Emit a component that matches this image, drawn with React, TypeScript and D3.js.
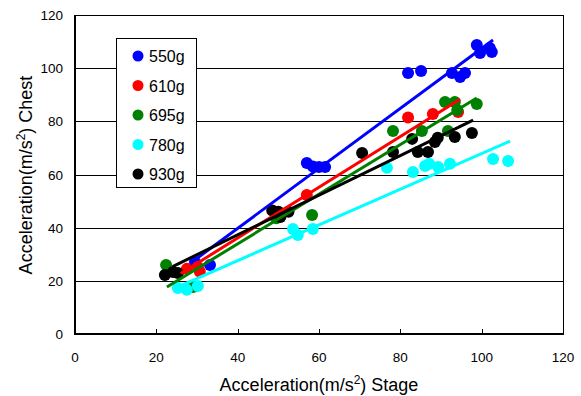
import React from "react";
import * as d3 from "d3";

// ---- data ----
const seriesNames = ["550g", "610g", "695g", "780g", "930g"];
const seriesColors = ["#0000FF", "#FF0000", "#008000", "#00FFFF", "#000000"];

const s550x = [29.5, 33.2, 57, 58.5, 60, 61.5, 81.9, 85.1, 92.7, 94.7, 95.9, 98.8, 99.6, 102, 102.5];
const s550y = [27.1, 26, 64.3, 63, 62.8, 62.8, 98.2, 98.9, 98.2, 96.7, 98.2, 108.7, 105.7, 107.6, 106.1];

const s610x = [27.5, 30.2, 30.7, 57, 81.9, 88, 94.2];
const s610y = [24.5, 25.2, 23.4, 52.3, 81.4, 82.8, 83.5];

const s695x = [22.4, 29, 49.5, 58.3, 78.2, 85.3, 91, 93.4, 94, 98.8, 91.7];
const s695y = [26, 17.7, 43.5, 44.8, 76.4, 76.4, 87.3, 87.3, 84.3, 86.5, 76.4];

const s780x = [25.3, 27.5, 30.2, 53.6, 54.8, 58.5, 76.7, 83.1, 86.1, 87.1, 89.3, 92.2, 102.8, 106.5];
const s780y = [17.3, 16.6, 18.1, 39.5, 37.2, 39.5, 62.5, 60.9, 63.2, 64, 62.8, 64, 65.8, 65.1];

const s930x = [22.1, 24.1, 25.3, 48.5, 50, 50.5, 52.5, 70.6, 78.2, 82.9, 84.3, 86.8, 88.5, 89.2, 93.4, 97.6];
const s930y = [22.2, 23.3, 22.9, 46.5, 46, 44, 46, 68.1, 68.5, 73.4, 68.5, 68.5, 72.2, 73.8, 74.1, 75.6];

const seriesX = [s550x, s610x, s695x, s780x, s930x];
const seriesY = [s550y, s610y, s695y, s780y, s930y];

// linear trendlines: slope, intercept, x range
const trendSlope = [1.128, 0.955, 0.933, 0.671, 0.745];
const trendIntercept = [-5.36, -2.1, -3.4, 0.78, 7.5];
const trendFrom = [29.5, 26, 22.6, 25.3, 24];
const trendTo = [102.8, 94.7, 98.8, 107, 97.9];

const xTicks = [0, 20, 40, 60, 80, 100, 120];
const yTicks = [0, 20, 40, 60, 80, 100, 120];

const W = 581;
const H = 396;
const M = { left: 75, right: 563, top: 15, bottom: 334 };

export default function App() {
  const x = d3.scaleLinear().domain([0, 120]).range([M.left, M.right]);
  const y = d3.scaleLinear().domain([0, 120]).range([M.bottom, M.top]);
  const font = "Arial, 'Liberation Sans', sans-serif";

  return (
    <svg
      width={W}
      height={H}
      style={{ position: "absolute", left: 0, top: 0, background: "#fff" }}
      fontFamily={font}
    >
      <rect x={0} y={0} width={W} height={H} fill="#fff" />
      {/* gridlines */}
      {yTicks.slice(1, -1).map((t) => (
        <line
          key={"g" + t}
          x1={M.left}
          x2={M.right}
          y1={Math.round(y(t)) + 0.5}
          y2={Math.round(y(t)) + 0.5}
          stroke="#000"
          strokeWidth={1}
        />
      ))}
      {/* plot border */}
      <rect
        x={M.left + 0.5}
        y={M.top + 0.5}
        width={M.right - M.left}
        height={M.bottom - M.top}
        fill="none"
        stroke="#000"
        strokeWidth={1}
      />
      {/* axes lines heavier */}
      <line x1={M.left} x2={M.left} y1={M.top} y2={M.bottom + 1} stroke="#000" strokeWidth={2} />
      <line x1={M.left} x2={M.right + 1} y1={M.bottom} y2={M.bottom} stroke="#000" strokeWidth={2} />
      {/* x ticks */}
      {xTicks.map((t) => (
        <g key={"xt" + t}>
          <line
            x1={Math.round(x(t)) + 0.5}
            x2={Math.round(x(t)) + 0.5}
            y1={M.bottom}
            y2={M.bottom - 5}
            stroke="#000"
          />
          <text x={x(t)} y={362} textAnchor="middle" fontSize={13.5} fill="#000">
            {t}
          </text>
        </g>
      ))}
      {yTicks.map((t) => (
        <text key={"yt" + t} x={63} y={y(t) + 5} textAnchor="end" fontSize={13.5} fill="#000">
          {t}
        </text>
      ))}
      {/* points */}
      {seriesX.map((xs, si) =>
        xs.map((xv, i) => (
          <circle
            key={"p" + si + "-" + i}
            cx={x(xv)}
            cy={y(seriesY[si][i])}
            r={6}
            fill={seriesColors[si]}
          />
        ))
      )}
      {/* trendlines */}
      {trendSlope.map((m, si) => (
        <line
          key={"tl" + si}
          x1={x(trendFrom[si])}
          y1={y(m * trendFrom[si] + trendIntercept[si])}
          x2={x(trendTo[si])}
          y2={y(m * trendTo[si] + trendIntercept[si])}
          stroke={seriesColors[si]}
          strokeWidth={3}
        />
      ))}
      {/* legend */}
      <rect x={116.5} y={38.5} width={80} height={149} fill="#fff" stroke="#000" strokeWidth={1} />
      {seriesNames.map((n, i) => (
        <g key={"lg" + i}>
          <circle cx={138} cy={56 + i * 29.5} r={5.5} fill={seriesColors[i]} />
          <text x={149} y={62 + i * 29.5} fontSize={16} fill="#000">
            {n}
          </text>
        </g>
      ))}
      {/* axis titles */}
      <text x={319} y={391} textAnchor="middle" fontSize={18} fill="#000">
        Acceleration(m/s<tspan dy={-7} fontSize={12}>2</tspan>
        <tspan dy={7}>) Stage</tspan>
      </text>
      <text
        transform={`translate(32,${175}) rotate(-90)`}
        textAnchor="middle"
        fontSize={18}
        fill="#000"
      >
        Acceleration(m/s<tspan dy={-7} fontSize={12}>2</tspan>
        <tspan dy={7}>) Chest</tspan>
      </text>
    </svg>
  );
}
